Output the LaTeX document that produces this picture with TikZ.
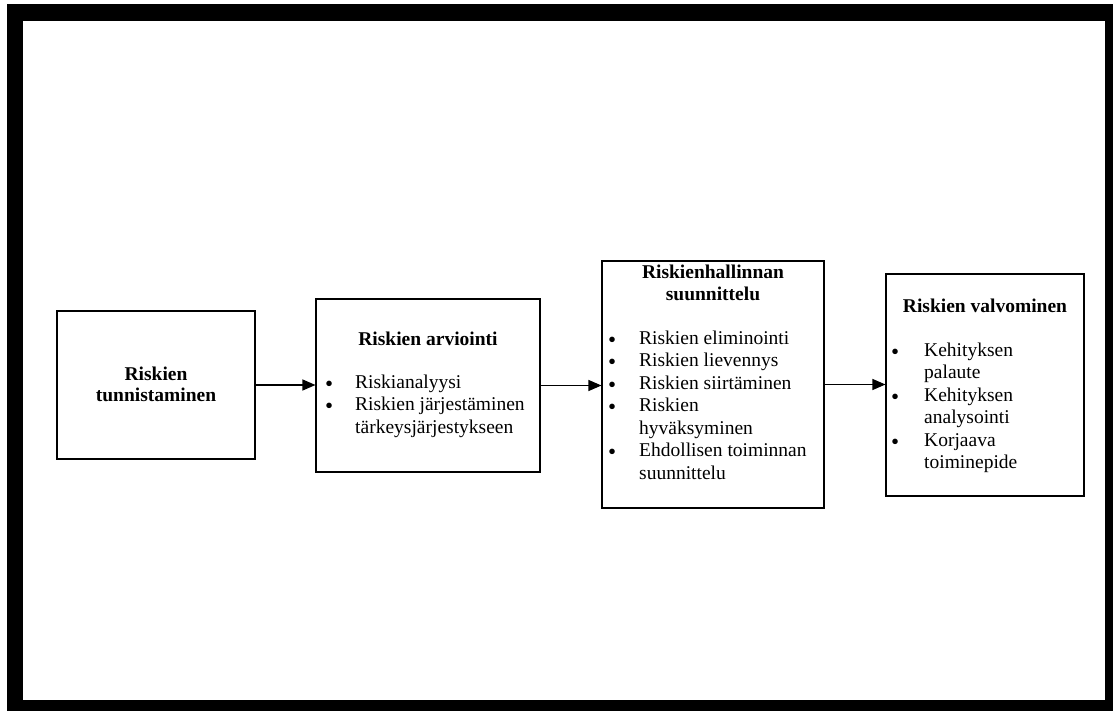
\documentclass[tikz,border=0pt]{standalone}
\usepackage{fontspec}
\setmainfont{Liberation Serif}
\usetikzlibrary{arrows.meta,fit}

% one bullet item; the bullet is centred on the column edge
\newcommand{\itm}{\makebox[0pt]{\smash{\raisebox{-3.2pt}{\fontsize{23}{22.5}\selectfont\textbullet}}}}

\begin{document}
\begin{tikzpicture}[x=1pt,y=-1pt,
  stage/.style={draw=black, line width=1.1pt, fill=white, inner sep=0pt},
  flow/.style={-{Triangle[length=13pt,width=11pt]}, line width=1.2pt},
  body/.style={inner sep=0pt, anchor=base west, font=\fontsize{19.5}{22.5}\selectfont},
  head/.style={inner sep=0pt, anchor=base, font=\fontsize{19.5}{21.5}\selectfont\bfseries}]

% page and thick black frame
\useasboundingbox (0,0) rectangle (1113,711);
\fill[white] (0,0) rectangle (1113,711);
\fill[black] (7,4) rectangle (1113,711);
\fill[white] (23,21) rectangle (1105,700);

% stage boxes
\coordinate (c1a) at (57,311);  \coordinate (c1b) at (255,459);
\coordinate (c2a) at (316,299); \coordinate (c2b) at (540,472);
\coordinate (c3a) at (602,261); \coordinate (c3b) at (824,508);
\coordinate (c4a) at (886,274); \coordinate (c4b) at (1084,496);
\node[stage, fit=(c1a)(c1b)] (s1) {};
\node[stage, fit=(c2a)(c2b)] (s2) {};
\node[stage, fit=(c3a)(c3b)] (s3) {};
\node[stage, fit=(c4a)(c4b)] (s4) {};

% headings
\node[head] (h1) at (156,380) {\begin{tabular}[t]{@{}c@{}}Riskien\\tunnistaminen\end{tabular}};
\node[head] (h2) at (428,345) {Riskien arviointi};
\node[head] (h3) at (713,279) {\begin{tabular}[t]{@{}c@{}}Riskienhallinnan\\suunnittelu\end{tabular}};
\node[head] (h4) at (985,312) {Riskien valvominen};

% bullet lists
\node[body] (l2) at (329,388) {\begin{tabular}[t]{@{}l@{\hspace{26pt}}l@{}}
  \itm & Riskianalyysi\\
  \itm & Riskien järjestäminen\\
       & tärkeysjärjestykseen
\end{tabular}};
\node[body] (l3) at (612,344) {\begin{tabular}[t]{@{}l@{\hspace{27pt}}l@{}}
  \itm & Riskien eliminointi\\
  \itm & Riskien lievennys\\
  \itm & Riskien siirtäminen\\
  \itm & Riskien\\
       & hyväksyminen\\
  \itm & Ehdollisen toiminnan\\
       & suunnittelu
\end{tabular}};
\node[body] (l4) at (895,356) {\begin{tabular}[t]{@{}l@{\hspace{29pt}}l@{}}
  \itm & Kehityksen\\
       & palaute\\
  \itm & Kehityksen\\
       & analysointi\\
  \itm & Korjaava\\
       & toiminepide
\end{tabular}};

% flow between stages
\draw[flow] (s1.east) -- (s1.east -| s2.west);
\draw[flow] (s2.east) -- (s2.east -| s3.west);
\draw[flow] (s3.east) -- (s3.east -| s4.west);

\end{tikzpicture}
\end{document}
